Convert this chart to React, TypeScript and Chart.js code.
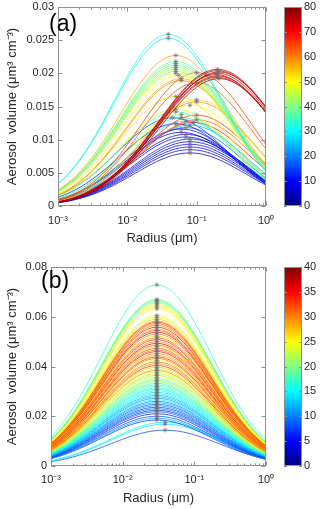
import React, { useEffect, useRef } from 'react';
import { Chart, registerables } from 'chart.js';

Chart.register(...registerables);

// ---------- Panel (a): colour value, peak volume, mode radius (um), ln-width ----------
const aColorValue = [76, 75, 77, 74, 73, 76, 72, 78, 33, 29, 57, 38, 40, 36, 43, 45, 39, 47, 50, 56, 60, 66, 64, 52, 54, 58, 50, 48, 35, 44, 66, 31, 63, 68, 27, 24, 14, 11, 9, 19, 7, 10, 6, 12, 5, 8, 10, 7, 4];
const aPeakVolume = [0.0206, 0.0204, 0.0202, 0.02, 0.0198, 0.0196, 0.0194, 0.0192, 0.0259, 0.0253, 0.0227, 0.0218, 0.0215, 0.0212, 0.0209, 0.0206, 0.0203, 0.02, 0.0197, 0.0192, 0.0189, 0.0201, 0.0186, 0.0165, 0.016, 0.0157, 0.0152, 0.0146, 0.0142, 0.0138, 0.0137, 0.0133, 0.013, 0.0126, 0.0128, 0.0122, 0.0133, 0.0124, 0.0116, 0.0118, 0.0111, 0.0108, 0.0104, 0.0101, 0.0097, 0.0093, 0.0089, 0.0085, 0.0080];
const aModeRadius = [0.2, 0.2, 0.21, 0.2, 0.19, 0.2, 0.2, 0.21, 0.039, 0.039, 0.05, 0.05, 0.05, 0.05, 0.05, 0.05, 0.05, 0.05, 0.055, 0.06, 0.06, 0.1, 0.1, 0.05, 0.1, 0.1, 0.08, 0.05, 0.05, 0.06, 0.1, 0.06, 0.1, 0.09, 0.07, 0.08, 0.045, 0.05, 0.06, 0.07, 0.06, 0.07, 0.07, 0.08, 0.08, 0.08, 0.08, 0.08, 0.08];
const aWidth = [2.0, 2.0, 2.0, 2.0, 2.0, 2.0, 2.0, 2.0, 1.82, 1.82, 1.85, 1.85, 1.85, 1.85, 1.85, 1.85, 1.85, 1.85, 1.85, 1.85, 1.85, 1.85, 1.85, 1.85, 1.85, 1.85, 1.85, 1.85, 1.85, 1.85, 1.85, 1.85, 1.85, 1.85, 1.85, 1.85, 1.85, 1.85, 1.85, 1.85, 1.85, 1.85, 1.85, 1.85, 1.85, 1.85, 1.85, 1.85, 1.85];

// ---------- Panel (b) ----------
const bColorValue = [17, 19, 18, 20, 22, 24, 26, 25, 25, 23, 27, 29, 33, 31, 30, 34, 28, 32, 36, 30, 26, 31, 33, 29, 35, 30, 27, 32, 31, 34, 29, 28, 33, 30, 24, 31, 29, 33, 27, 23, 30, 25, 21, 22, 24, 20, 19, 22, 18, 17, 19, 16, 15, 17, 14, 16, 12, 13, 11, 15, 10, 12, 9, 11, 8, 10, 7, 9, 6, 8, 12, 7, 15, 14, 8];
const bPeakVolume = [0.0728, 0.067, 0.0665, 0.066, 0.0655, 0.0648, 0.064, 0.0632, 0.0605, 0.0598, 0.059, 0.0582, 0.0578, 0.0572, 0.0565, 0.0558, 0.055, 0.0545, 0.0538, 0.053, 0.0522, 0.0515, 0.0508, 0.05, 0.0493, 0.0486, 0.048, 0.0473, 0.0466, 0.046, 0.0452, 0.0445, 0.0438, 0.0432, 0.0425, 0.0418, 0.0411, 0.0404, 0.0397, 0.039, 0.0384, 0.0377, 0.037, 0.0364, 0.0357, 0.035, 0.0344, 0.0338, 0.0332, 0.0326, 0.032, 0.0314, 0.0308, 0.0302, 0.0296, 0.029, 0.0284, 0.0278, 0.0272, 0.0266, 0.026, 0.0254, 0.0248, 0.0242, 0.0236, 0.023, 0.0224, 0.0218, 0.021, 0.02, 0.0192, 0.0185, 0.0176, 0.0168, 0.0144];
const bModeRadius = [0.03, 0.03, 0.03, 0.03, 0.03, 0.03, 0.03, 0.03, 0.03, 0.03, 0.03, 0.03, 0.03, 0.03, 0.03, 0.03, 0.03, 0.03, 0.03, 0.03, 0.03, 0.03, 0.03, 0.03, 0.03, 0.03, 0.03, 0.03, 0.03, 0.03, 0.03, 0.03, 0.03, 0.03, 0.03, 0.03, 0.03, 0.03, 0.03, 0.03, 0.03, 0.03, 0.03, 0.03, 0.03, 0.03, 0.03, 0.03, 0.03, 0.03, 0.03, 0.03, 0.03, 0.03, 0.03, 0.03, 0.03, 0.03, 0.03, 0.03, 0.03, 0.03, 0.03, 0.03, 0.03, 0.03, 0.03, 0.03, 0.03, 0.03, 0.03, 0.03, 0.039, 0.039, 0.039];
const bWidth = 1.78;

// axis definitions
const xTickValues: number[] = [];
for (let e = -3; e < 0; e++) for (let m = 1; m < 10; m++) xTickValues.push(m * Math.pow(10, e));
xTickValues.push(1);
const radiusGrid: number[] = [];
for (let i = 0; i <= 60; i++) radiusGrid.push(Math.pow(10, -3 + i * 0.05));

const FONT = '"Liberation Sans", Arial, Helvetica, sans-serif';
const AXIS_GRAY = '#8f8f8f';
const TEXT = '#262626';

function jet(t: number): [number, number, number] {
  const c = (v: number) => Math.max(0, Math.min(1, v));
  return [c(1.5 - Math.abs(4 * t - 3)), c(1.5 - Math.abs(4 * t - 2)), c(1.5 - Math.abs(4 * t - 1))];
}
function jetCss(t: number, a = 1) {
  const [r, g, b] = jet(t);
  return `rgba(${Math.round(r * 255)},${Math.round(g * 255)},${Math.round(b * 255)},${a})`;
}

const SUP: Record<string, string> = { '-': '⁻', '0': '⁰', '1': '¹', '2': '²', '3': '³' };
function powLabel(v: number) {
  const l = Math.log10(v);
  if (Math.abs(l - Math.round(l)) > 1e-6) return '';
  return '10' + String(Math.round(l)).split('').map((ch) => SUP[ch] || ch).join('');
}

interface PanelSpec {
  colorValue: number[];
  peak: number[];
  mode: number[];
  width: (i: number) => number;
  cbMax: number;
  cbStep: number;
  yMax: number;
  yStep: number;
  letter: string;
  letterX: number;
  letterY: number;
  yAxisWidth: number;
  xAxisHeight: number;
  topPad: number;
  xTickPad: number;
  xTitlePad: number;
  height: number;
}

const noPadV = (s: any) => { s.paddingTop = 0; s.paddingBottom = 0; };

function buildChart(canvas: HTMLCanvasElement, p: PanelSpec) {
  const lineSets = p.peak.map((pk, i) => ({
    type: 'scatter' as const,
    showLine: true,
    data: radiusGrid.map((r) => {
      const d = Math.log(r / p.mode[i]);
      return { x: r, y: pk * Math.exp(-(d * d) / (2 * p.width(i) * p.width(i))) };
    }),
    borderColor: jetCss(p.colorValue[i] / p.cbMax, 0.75),
    borderWidth: 1,
    pointRadius: 0,
    tension: 0,
  }));
  const markerSet = {
    type: 'scatter' as const,
    data: p.peak.map((pk, i) => ({ x: p.mode[i], y: pk })),
    pointStyle: 'star',
    pointRadius: 2.5,
    borderColor: 'rgba(105,105,105,0.55)',
    backgroundColor: 'rgba(105,105,105,0.55)',
    borderWidth: 1,
    showLine: false,
  };

  const decor = {
    id: 'decor',
    afterDraw(chart: any) {
      const { ctx, chartArea: a, scales } = chart;
      const L = Math.round(a.left) + 0.5, R = Math.round(a.right) - 0.5;
      const T = Math.round(a.top) + 0.5, B = Math.round(a.bottom) - 0.5;
      ctx.save();
      ctx.strokeStyle = AXIS_GRAY;
      ctx.lineWidth = 1;
      ctx.strokeRect(L, T, R - L, B - T);
      ctx.beginPath();
      for (const v of xTickValues) {
        const x = Math.round(scales.x.getPixelForValue(v)) + 0.5;
        const len = powLabel(v) ? 4 : 2;
        ctx.moveTo(x, B); ctx.lineTo(x, B - len);
        ctx.moveTo(x, T); ctx.lineTo(x, T + len);
      }
      for (let v = 0; v <= p.yMax + 1e-9; v += p.yStep) {
        const y = Math.round(scales.y.getPixelForValue(v)) + 0.5;
        ctx.moveTo(L, y); ctx.lineTo(L + 4, y);
        ctx.moveTo(R, y); ctx.lineTo(R - 4, y);
      }
      ctx.stroke();

      // colour bar
      const cbL = Math.round(a.right) + 18, cbR = Math.round(a.right) + 36;
      const g = ctx.createLinearGradient(0, a.bottom, 0, a.top);
      for (let k = 0; k <= 32; k++) g.addColorStop(k / 32, jetCss(k / 32));
      ctx.fillStyle = g;
      ctx.fillRect(cbL, a.top, cbR - cbL, a.bottom - a.top);
      ctx.strokeStyle = AXIS_GRAY;
      ctx.strokeRect(cbL + 0.5, T, cbR - cbL - 1, B - T);
      ctx.beginPath();
      for (let v = 0; v <= p.cbMax; v += p.cbStep) {
        const y = Math.round(scales.cb.getPixelForValue(v)) + 0.5;
        ctx.moveTo(cbL, y); ctx.lineTo(cbL + 3, y);
        ctx.moveTo(cbR, y); ctx.lineTo(cbR - 3, y);
      }
      ctx.stroke();

      // panel letter
      ctx.fillStyle = '#000';
      ctx.font = `23px ${FONT}`;
      ctx.textBaseline = 'alphabetic';
      ctx.textAlign = 'left';
      ctx.fillText(p.letter, p.letterX, p.letterY);
      ctx.restore();
    },
  };

  return new Chart(canvas, {
    type: 'scatter',
    data: { datasets: [markerSet as any, ...lineSets] },
    plugins: [decor as any],
    options: {
      responsive: false,
      animation: false,
      devicePixelRatio: 1,
      layout: { padding: { top: p.topPad, left: 0, right: 0, bottom: 0 } },
      plugins: { legend: { display: false }, tooltip: { enabled: false } },
      events: [],
      font: { family: FONT },
      scales: {
        x: {
          type: 'logarithmic',
          position: 'bottom',
          min: 0.001,
          max: 1,
          grid: { display: false, drawTicks: false },
          border: { display: false },
          afterBuildTicks: (s: any) => { s.ticks = xTickValues.map((v) => ({ value: v })); },
          afterFit: (s: any) => { s.height = p.xAxisHeight; s.paddingLeft = 0; s.paddingRight = 0; },
          ticks: {
            autoSkip: false,
            maxRotation: 0,
            minRotation: 0,
            padding: p.xTickPad,
            color: TEXT,
            font: { family: FONT, size: 11 },
            callback: (v: any) => powLabel(Number(v)),
          },
          title: {
            display: true,
            text: 'Radius (μm)',
            color: TEXT,
            font: { family: FONT, size: 13 },
            padding: { top: 0, bottom: p.xTitlePad },
          },
        },
        y: {
          type: 'linear',
          position: 'left',
          min: 0,
          max: p.yMax,
          grid: { display: false, drawTicks: false },
          border: { display: false },
          afterFit: (s: any) => { s.width = p.yAxisWidth; noPadV(s); },
          ticks: {
            stepSize: p.yStep,
            padding: 4,
            color: TEXT,
            font: { family: FONT, size: 11 },
            callback: (v: any) => String(Number(Number(v).toFixed(4))),
          },
          title: {
            display: true,
            text: 'Aerosol  volume (μm³ cm⁻³)',
            color: TEXT,
            font: { family: FONT, size: 13 },
            padding: { top: 5, bottom: 0 },
          },
        },
        cb: {
          type: 'linear',
          position: 'right',
          min: 0,
          max: p.cbMax,
          grid: { display: false, drawTicks: false },
          border: { display: false },
          afterFit: (s: any) => { s.width = 54; noPadV(s); },
          ticks: {
            stepSize: p.cbStep,
            padding: 38,
            color: TEXT,
            font: { family: FONT, size: 11 },
          },
        },
      },
    } as any,
  });
}

const panelA: PanelSpec = {
  colorValue: aColorValue,
  peak: aPeakVolume,
  mode: aModeRadius,
  width: (i) => aWidth[i],
  cbMax: 80,
  cbStep: 10,
  yMax: 0.03,
  yStep: 0.005,
  letter: '(a)',
  letterX: 49,
  letterY: 31,
  yAxisWidth: 58,
  xAxisHeight: 48,
  topPad: 7,
  xTickPad: 8,
  xTitlePad: 8,
  height: 254,
};

const panelB: PanelSpec = {
  colorValue: bColorValue,
  peak: bPeakVolume,
  mode: bModeRadius,
  width: () => bWidth,
  cbMax: 40,
  cbStep: 5,
  yMax: 0.08,
  yStep: 0.02,
  letter: '(b)',
  letterX: 41,
  letterY: 34,
  yAxisWidth: 51,
  xAxisHeight: 43,
  topPad: 13,
  xTickPad: 7,
  xTitlePad: 3,
  height: 255,
};

function Panel({ spec }: { spec: PanelSpec }) {
  const ref = useRef<HTMLCanvasElement | null>(null);
  useEffect(() => {
    if (!ref.current) return;
    const chart = buildChart(ref.current, spec);
    return () => chart.destroy();
  }, [spec]);
  return <canvas ref={ref} width={320} height={spec.height} style={{ display: 'block', width: 320, height: spec.height }} />;
}

export default function App() {
  return (
    <div style={{ position: 'absolute', left: 0, top: 0, width: 320, height: 509, background: '#fff' }}>
      <Panel spec={panelA} />
      <Panel spec={panelB} />
    </div>
  );
}
